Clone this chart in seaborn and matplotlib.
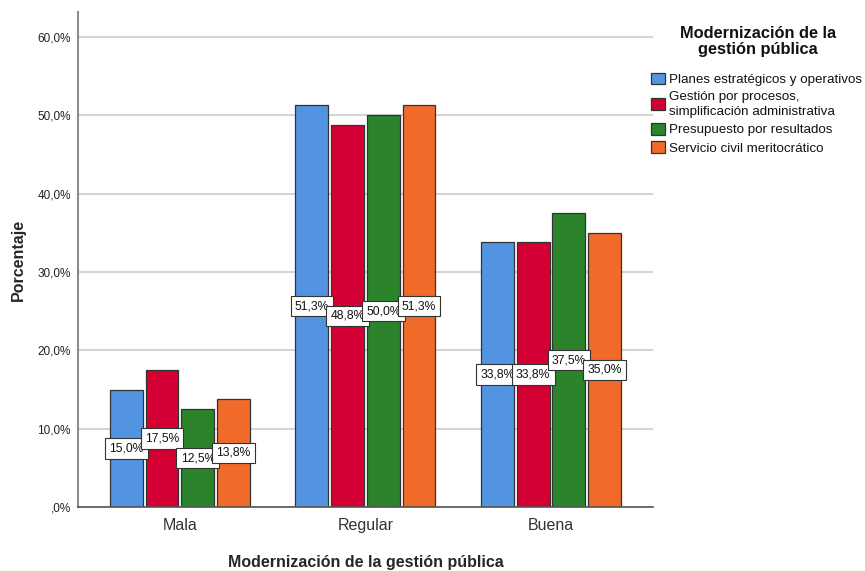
import matplotlib
matplotlib.use("Agg")
import matplotlib.pyplot as plt
import seaborn as sns
import pandas as pd

# Survey results: percentage of respondents per rating level for each dimension
niveles = ["Mala", "Regular", "Buena"]
dimensiones = [
    "Planes estratégicos y operativos",
    "Gestión por procesos,\nsimplificación administrativa",
    "Presupuesto por resultados",
    "Servicio civil meritocrático",
]
planes = [15.0, 51.3, 33.8]
procesos = [17.5, 48.8, 33.8]
presupuesto = [12.5, 50.0, 37.5]
servicio = [13.8, 51.3, 35.0]
y_ticks = [0, 10, 20, 30, 40, 50, 60]

colores = ["#5294E2", "#D40033", "#2B832B", "#F06A2A"]

rows = []
for dim, vals in zip(dimensiones, [planes, procesos, presupuesto, servicio]):
    for nivel, v in zip(niveles, vals):
        rows.append({"nivel": nivel, "dimension": dim, "pct": v})
df = pd.DataFrame(rows)

sns.set_style("white")
plt.rcParams["font.family"] = ["Liberation Sans", "DejaVu Sans"]

fig = plt.figure(figsize=(8.65, 5.71), dpi=100)
ax = fig.add_axes([0.090, 0.112, 0.665, 0.867])

sns.barplot(
    data=df, x="nivel", y="pct", hue="dimension", order=niveles,
    hue_order=dimensiones, palette=colores, saturation=1, width=0.77,
    gap=0.08, edgecolor="#333333", linewidth=0.9, errorbar=None, ax=ax,
    legend=True,
)

ax.set_xlim(-0.55, 2.55)
ax.set_ylim(0, 63.2)
ax.set_yticks(y_ticks)
ax.set_yticklabels([(f"{t:.1f}".replace(".", ",") if t else ",0") + "%" for t in y_ticks],
                   fontsize=8.5, color="#222222")
ax.tick_params(axis="y", length=0, pad=5)
ax.tick_params(axis="x", length=0, pad=8, labelsize=11.5, labelcolor="#333333")
ax.yaxis.grid(True, color="#d4d4d4", linewidth=1.5)
ax.set_axisbelow(True)

for side in ["top", "right"]:
    ax.spines[side].set_visible(False)
ax.spines["left"].set_color("#8c8c8c")
ax.spines["left"].set_linewidth(1.5)
ax.spines["bottom"].set_color("#555555")
ax.spines["bottom"].set_linewidth(1.2)

ax.set_xlabel("Modernización de la gestión pública", fontsize=11.5,
              fontweight="bold", labelpad=16)
ax.set_ylabel("Porcentaje", fontsize=11.5, fontweight="bold", labelpad=8)

# Value labels boxed at mid-height of each bar
for container in ax.containers:
    for bar in container:
        h = bar.get_height()
        ax.text(bar.get_x() + bar.get_width() / 2, h / 2,
                f"{h:.1f}".replace(".", ",") + "%",
                ha="center", va="center", fontsize=8.7, color="#111111",
                bbox=dict(boxstyle="square,pad=0.35", fc="white",
                          ec="#333333", lw=0.8), zorder=5)

handles, labels = ax.get_legend_handles_labels()
ax.get_legend().remove()

fig.text(0.876, 0.928, "Modernización de la\ngestión pública", ha="center",
         va="center", multialignment="center", fontsize=11.8,
         fontweight="bold", linespacing=1.1, color="#111111")

leg = fig.legend(
    handles, labels, loc="upper left", bbox_to_anchor=(0.753, 0.873),
    frameon=False, fontsize=9.6, handlelength=1.0, handleheight=1.0,
    handletextpad=0.3, labelspacing=0.38, borderpad=0, borderaxespad=0,
    prop={"size": 9.6},
)
for t in leg.get_texts():
    t.set_linespacing(1.3)
    t.set_color("#111111")

fig.savefig("out.png", dpi=100)
